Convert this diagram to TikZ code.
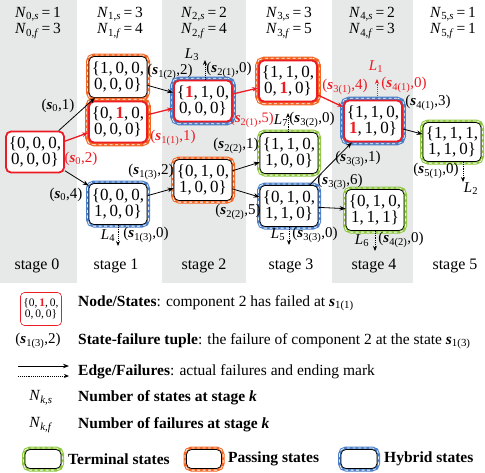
\documentclass[tikz,border=0pt]{standalone}
\usepackage{fontspec}
\setmainfont{Liberation Serif}
\usetikzlibrary{arrows.meta}
\definecolor{bggray}{RGB}{231,233,232}
\definecolor{tgreen}{RGB}{141,198,63}
\definecolor{porange}{RGB}{242,101,34}
\definecolor{hblue}{RGB}{74,126,199}
\definecolor{hred}{RGB}{237,28,36}
\newcommand{\bs}{\textbf{\textit{s}}}
\newcommand{\tup}[2]{(\bs\textsubscript{#1},#2)}
\newcommand{\rb}[1]{\textcolor{hred}{\textbf{#1}}}
\newcommand{\sv}[6]{\{#1,\,#2,\,#3,\\#4,\,#5,\,#6\}}
\newcommand{\Nks}[3]{\textit{N}\textsubscript{#1,\textit{#2}}\,=\,#3}
\tikzset{
  st/.style={draw=black, line width=0.7pt, fill=white, rounded corners=5pt,
    minimum width=58pt, minimum height=41pt, inner sep=1pt, align=center,
    font=\fontsize{17}{15.5}\selectfont},
  hl/.style={draw=hred, line width=1.8pt},
  band/.style={preaction={draw=#1, line width=6pt},
               preaction={draw=white, line width=4pt, dash pattern=on 3pt off 2.5pt},
               preaction={draw=#1, line width=2.4pt}},
  hband/.style={preaction={draw=#1, line width=7.6pt},
               preaction={draw=white, line width=5.4pt, dash pattern=on 3pt off 2.5pt},
               preaction={draw=#1, line width=3.8pt}},
  term/.style={st, band=tgreen},
  pass/.style={st, band=porange},
  hyb/.style={st, band=hblue},
  edge/.style={draw=black, line width=0.8pt, -{Stealth[length=6pt,width=4.5pt]}},
  redge/.style={draw=hred, line width=1.3pt, -{Stealth[length=6pt,width=4.5pt]}},
  dotarr/.style={draw=black, line width=0.9pt, densely dotted, -{Stealth[length=5pt,width=4pt]}},
  lab/.style={font=\fontsize{15}{15}\selectfont, inner sep=0pt},
  rlab/.style={lab, text=hred},
  hdr/.style={font=\fontsize{15.5}{16.5}\selectfont, align=left, inner sep=0pt},
  stg/.style={font=\fontsize{16}{16}\selectfont, inner sep=0pt},
  leg/.style={font=\fontsize{15.5}{16}\selectfont, anchor=west, inner sep=0pt},
}
\begin{document}
\begin{tikzpicture}[x=1pt,y=-1pt]
\useasboundingbox (0,0) rectangle (485,472);
\fill[bggray] (0,0) rectangle (77,283);
\fill[bggray] (162,0) rectangle (246,283);
\fill[bggray] (332,0) rectangle (413,283);
% headers
\node[hdr] (h0) at (38,23) {\Nks{0}{s}{1}\\\Nks{0}{f}{3}};
\node[hdr] (h1) at (120,23) {\Nks{1}{s}{3}\\\Nks{1}{f}{4}};
\node[hdr] (h2) at (204,23) {\Nks{2}{s}{2}\\\Nks{2}{f}{4}};
\node[hdr] (h3) at (289,23) {\Nks{3}{s}{3}\\\Nks{3}{f}{5}};
\node[hdr] (h4) at (372,23) {\Nks{4}{s}{2}\\\Nks{4}{f}{3}};
\node[hdr] (h5) at (453,23) {\Nks{5}{s}{1}\\\Nks{5}{f}{1}};
% stage labels
\node[stg] (g0) at (37,266) {stage 0};
\node[stg] (g1) at (116,266) {stage 1};
\node[stg] (g2) at (204,266) {stage 2};
\node[stg] (g3) at (291,266) {stage 3};
\node[stg] (g4) at (374,266) {stage 4};
\node[stg] (g5) at (455,266) {stage 5};
% nodes
\node[st, hl] (S0) at (35,152) {\sv{0}{0}{0}{0}{0}{0}};
\node[pass] (N1a) at (118,77) {\sv{1}{0}{0}{0}{0}{0}};
\node[st, hband=porange, hl] (N1b) at (118,122) {\sv{0}{\rb{1}}{0}{0}{0}{0}};
\node[hyb] (N1c) at (118,204) {\sv{0}{0}{0}{1}{0}{0}};
\node[st, hband=hblue, hl] (N2a) at (203,101) {\sv{\rb{1}}{1}{0}{0}{0}{0}};
\node[pass] (N2b) at (203,180) {\sv{0}{1}{0}{1}{0}{0}};
\node[st, hband=porange, hl] (N3a) at (288,81) {\sv{1}{1}{0}{0}{\rb{1}}{0}};
\node[term] (N3b) at (289,153) {\sv{1}{1}{0}{1}{0}{0}};
\node[hyb] (N3c) at (289,206) {\sv{0}{1}{0}{1}{1}{0}};
\node[st, hband=hblue, hl] (N4a) at (373,121) {\sv{1}{1}{0}{\rb{1}}{1}{0}};
\node[term] (N4b) at (375,210) {\sv{0}{1}{0}{1}{1}{1}};
\node[term, minimum height=39pt] (N5a) at (452,142) {\sv{1}{1}{1}{1}{1}{0}};
% edges
\draw[edge] (S0) -- (N1a);
\draw[redge] (S0) -- (N1b);
\draw[edge] (S0) -- (N1c);
\draw[edge] (N1a) -- (N2a);
\draw[redge] (N1b) -- (N2a);
\draw[edge] (N1c) -- (N2b);
\draw[redge] (N2a) -- (N3a);
\draw[edge] (N2b) -- (N3b);
\draw[edge] (N2b) -- (N3c);
\draw[redge] (N3a) -- (N4a);
\draw[edge] (N3c) -- (N4a);
\draw[edge] (N3c) -- (N4b);
\draw[edge] (N4a) -- (N5a);
% edge labels
\node[lab] (e1) at (58,106) {\tup{0}{1}};
\node[rlab] (e2) at (81,159) {\tup{0}{2}};
\node[lab] (e3) at (66,195) {\tup{0}{4}};
\node[lab] (e4) at (170,72) {\tup{1(2)}{2}};
\node[rlab] (e5) at (173,138) {\tup{1(1)}{1}};
\node[lab] (e6) at (151,172) {\tup{1(3)}{2}};
\node[rlab, font=\fontsize{14.5}{15}\selectfont] (e7) at (252,120) {\tup{2(1)}{5}};
\node[lab] (e8) at (236,146) {\tup{2(2)}{1}};
\node[lab] (e9) at (238,212) {\tup{2(2)}{5}};
\node[rlab] (e10) at (345,87) {\tup{3(1)}{4}};
\node[lab] (e11) at (358,159) {\tup{3(3)}{1}};
\node[lab] (e12) at (340,182) {\tup{3(3)}{6}};
\node[lab] (e13) at (428,103) {\tup{4(1)}{3}};
% ending marks
\coordinate (L4e) at (118,246);
\draw[dotarr] (N1c.south) -- (L4e);
\node[lab] (L4) at (108,236) {\textit{L}\textsubscript{4}};
\node[lab] (t4) at (146,235) {\tup{1(3)}{0}};
\coordinate (L3e) at (205,60);
\draw[dotarr] (N2a.north -| L3e) -- (L3e);
\node[lab] (L3) at (192,55) {\textit{L}\textsubscript{3}};
\node[lab] (t3) at (229,70) {\tup{2(1)}{0}};
\coordinate (L7e) at (288,113);
\draw[dotarr] (N3b.north -| L7e) -- (L7e);
\node[lab] (L7) at (281,121) {\textit{L}\textsubscript{7}};
\node[lab] (t7) at (312,120) {\tup{3(2)}{0}};
\coordinate (L1e) at (377,79);
\draw[dotarr, draw=hred] (N4a.north -| L1e) -- (L1e);
\node[rlab] (L1) at (376,67) {\textit{L}\textsubscript{1}};
\node[rlab] (t1) at (404,85) {\tup{4(1)}{0}};
\coordinate (L5e) at (289,245);
\draw[dotarr] (N3c.south -| L5e) -- (L5e);
\node[lab] (L5) at (278,235) {\textit{L}\textsubscript{5}};
\node[lab] (t5) at (315,235) {\tup{3(3)}{0}};
\coordinate (L6e) at (375,251);
\draw[dotarr] (N4b.south -| L6e) -- (L6e);
\node[lab] (L6) at (362,241) {\textit{L}\textsubscript{6}};
\node[lab] (t6) at (401,240) {\tup{4(2)}{0}};
\coordinate (L2e) at (463,182);
\draw[dotarr] (N5a.south -| L2e) -- (L2e);
\node[lab] (L2) at (471,189) {\textit{L}\textsubscript{2}};
\node[lab] (t2) at (436,171) {\tup{5(1)}{0}};
% legend
\node[draw=hred, line width=0.6pt, fill=white, rounded corners=4pt, minimum width=41pt,
  minimum height=33pt, inner sep=1pt, align=center, font=\fontsize{11.5}{10.5}\selectfont]
  (lg) at (41,309) {\sv{0}{\rb{1}}{0}{0}{0}{0}};
\node[leg] (lt1) at (78,303) {\textbf{Node/States}: component 2 has failed at \bs\textsubscript{1(1)}};
\node[lab] (lgt) at (38,341) {\tup{1(3)}{2}};
\node[leg] (lt2) at (78,341) {\textbf{State-failure tuple}: the failure of component 2 at the state \bs\textsubscript{1(3)}};
\coordinate (la1) at (18,366);
\coordinate (la2) at (69,366);
\coordinate (lb1) at (18,376);
\coordinate (lb2) at (69,376);
\draw[edge] (la1) -- (la2);
\draw[dotarr] (lb1) -- (lb2);
\node[leg] (lt3) at (78,372) {\textbf{Edge/Failures}: actual failures and ending mark};
\node[hdr] (lnks) at (41,398) {\textit{N}\textsubscript{\textit{k,s}}};
\node[leg] (lt4) at (78,398) {\textbf{Number of states at stage \textit{k}}};
\node[hdr] (lnkf) at (41,425) {\textit{N}\textsubscript{\textit{k,f}}};
\node[leg] (lt5) at (78,425) {\textbf{Number of failures at stage \textit{k}}};
\node[st, band=tgreen, minimum width=36pt, minimum height=19pt] (bt) at (43,459) {};
\node[leg] (lt6) at (68,459) {\textbf{Terminal states}};
\node[st, band=porange, minimum width=35pt, minimum height=19pt] (bp) at (204,459) {};
\node[leg] (lt7) at (228,459) {\textbf{Passing states}};
\node[st, band=hblue, minimum width=36pt, minimum height=19pt] (bh) at (359,459) {};
\node[leg] (lt8) at (384,459) {\textbf{Hybrid states}};
\end{tikzpicture}
\end{document}
